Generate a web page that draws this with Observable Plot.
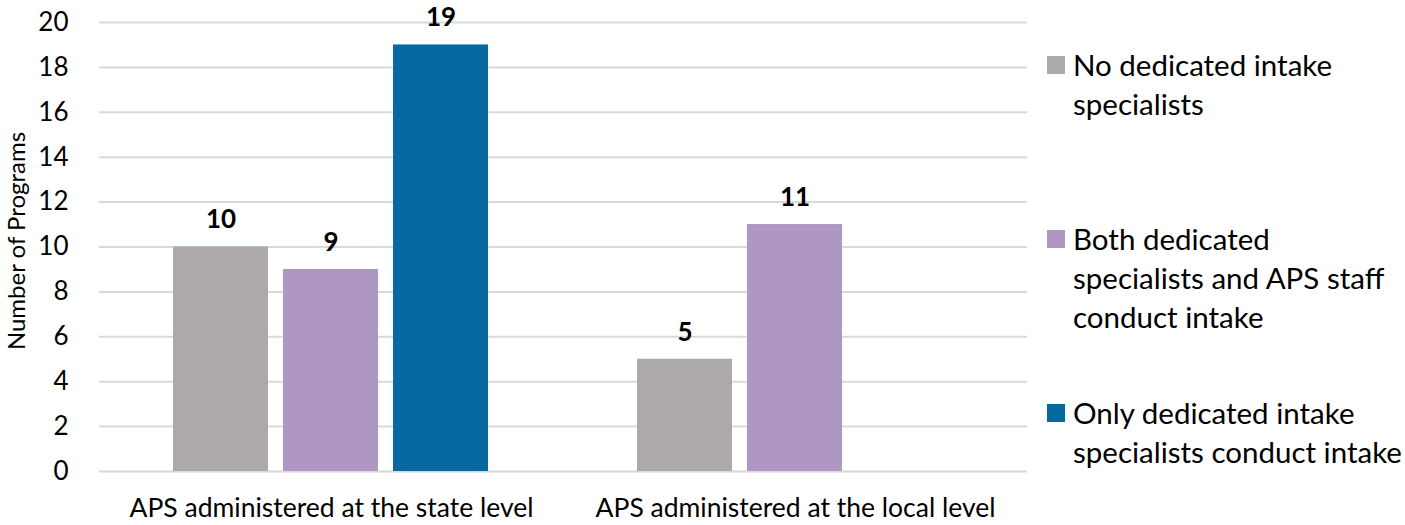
<!DOCTYPE html>
<html>
<head>
<meta charset="utf-8">
<script src="https://cdn.jsdelivr.net/npm/d3@7"></script>
<script src="https://cdn.jsdelivr.net/npm/@observablehq/plot@0.6"></script>
<style>
  html, body { margin: 0; padding: 0; background: #fff; }
  #wrap { position: relative; width: 1405px; height: 525px; font-family: Lato, "Open Sans", sans-serif; color: #000; }
  #chart { position: absolute; left: 0; top: 0; }
  #ylabel { position: absolute; left: 15px; top: 241px; transform: translate(-50%, -50%) rotate(-90deg); font-size: 24px; white-space: nowrap; }
  .item { position: absolute; left: 1047px; }
  .swatch { position: absolute; left: 0; width: 18px; height: 18px; top: 11px; }
  .txt { position: absolute; left: 26px; top: 0; font-size: 29.5px; line-height: 39px; white-space: nowrap; }
</style>
</head>
<body>
<div id="wrap">
  <div id="chart"></div>
  <div id="ylabel"></div>
  <div id="legend"></div>
</div>
<script>
// Groups along the x axis
const categories = ["APS administered at the state level", "APS administered at the local level"];
// Intake arrangement series
const series = [
  "No dedicated intake specialists",
  "Both dedicated specialists and APS staff conduct intake",
  "Only dedicated intake specialists conduct intake"
];
// Legend line breaks for each series
const legendLines = [
  ["No dedicated intake", "specialists"],
  ["Both dedicated", "specialists and APS staff", "conduct intake"],
  ["Only dedicated intake", "specialists conduct intake"]
];
const seriesColors = ["#ADA9A8", "#AF97C4", "#0769A0"];
// Number of programs per series, per group (null = no bar)
const stateValues = [10, 9, 19];
const localValues = [5, 11, null];
const yTicks = [0, 2, 4, 6, 8, 10, 12, 14, 16, 18, 20];
const yLabel = "Number of Programs";

const rows = [];
[stateValues, localValues].forEach((vals, gi) => {
  vals.forEach((v, si) => {
    if (v != null) rows.push({group: categories[gi], series: series[si], value: v});
  });
});

const chart = Plot.plot({
  width: 1030,
  height: 525,
  marginLeft: 99,
  marginRight: 3,
  marginTop: 22,
  marginBottom: 54,
  style: {fontFamily: "Lato, 'Open Sans', sans-serif", color: "#000", background: "#fff"},
  fx: {domain: categories, padding: 0, label: null},
  x: {domain: series, paddingInner: 0.135, paddingOuter: 0.658, axis: null},
  y: {domain: [0, 20], label: null},
  color: {domain: series, range: seriesColors},
  marks: [
    Plot.ruleY(yTicks, {stroke: "#D9D9D9", strokeWidth: 2}),
    Plot.barY(rows, {fx: "group", x: "series", y: "value", fill: "series"}),
    Plot.text(rows, {fx: "group", x: "series", y: "value", text: "value", dy: -27, fontSize: 26, fontWeight: "bold", fill: "#000"}),
    Plot.axisY({ticks: yTicks, tickSize: 0, tickPadding: 31, fontSize: 26, label: null}),
    Plot.axisFx({anchor: "bottom", tickSize: 0, tickPadding: 27, fontSize: 26.5, label: null})
  ]
});
document.getElementById("chart").appendChild(chart);
document.getElementById("ylabel").textContent = yLabel;

// Legend on the right
const legendTops = [45, 219, 393];
const legend = document.getElementById("legend");
series.forEach((s, i) => {
  const item = document.createElement("div");
  item.className = "item";
  item.style.top = legendTops[i] + "px";
  const sw = document.createElement("div");
  sw.className = "swatch";
  sw.style.background = seriesColors[i];
  const tx = document.createElement("div");
  tx.className = "txt";
  tx.innerHTML = legendLines[i].join("<br>");
  item.appendChild(sw);
  item.appendChild(tx);
  legend.appendChild(item);
});
</script>
</body>
</html>
